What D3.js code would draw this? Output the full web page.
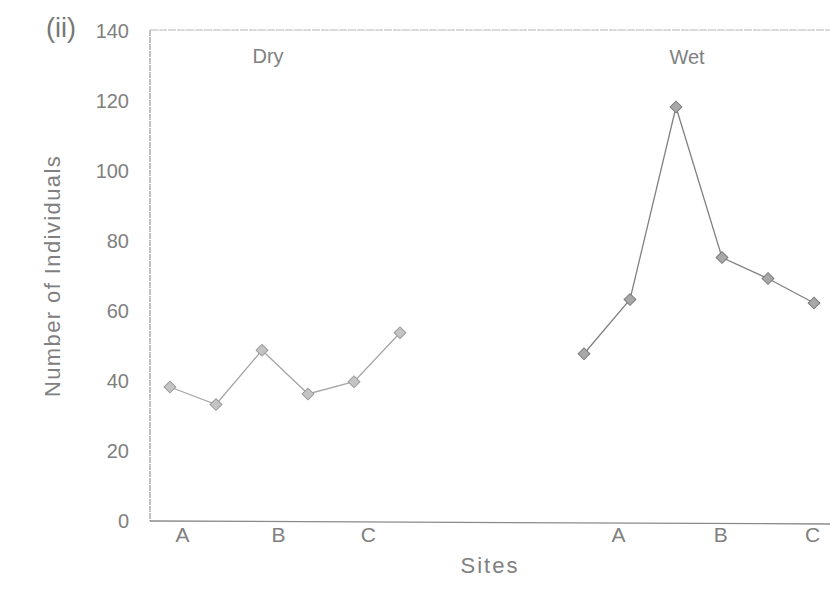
<!DOCTYPE html>
<html>
<head>
<meta charset="utf-8">
<script src="https://cdn.jsdelivr.net/npm/d3@7/dist/d3.min.js"></script>
<style>
  html, body { margin: 0; padding: 0; background: #fff; }
  svg { display: block; }
  text { font-family: "Liberation Sans", Arial, sans-serif; fill: #808080; }
</style>
</head>
<body>
<svg id="chart" width="830" height="605"></svg>
<script>
// Counts of individuals per sample, dry and wet season
const drySeason = [38, 33, 48.5, 36, 39.5, 53.5];
const wetSeason = [47.5, 63, 118, 75, 69, 62];
const dryIndex = [0, 1, 2, 3, 4, 5];
const wetIndex = [9, 10, 11, 12, 13, 14];
const siteNames = ["A", "B", "C"];
const drySiteSlots = [0.26, 2.35, 4.3];
const wetSiteSlots = [9.74, 11.96, 13.96];
const yTickValues = [0, 20, 40, 60, 80, 100, 120, 140];

const svg = d3.select("#chart");
const frameLeft = 150, frameTop = 30, frameBottom = 521, frameRight = 830;

const x = d3.scaleLinear().domain([0, 14]).range([170, 814]);
const y = d3.scaleLinear().domain([0, 140]).range([520, 30]);

// frame: left, top and bottom edges
svg.append("line").attr("x1", frameLeft).attr("x2", frameLeft).attr("y1", frameTop).attr("y2", frameBottom)
  .attr("stroke", "#9a9a9a").attr("stroke-width", 1.2).attr("stroke-dasharray", "6,1");
svg.append("line").attr("x1", frameLeft).attr("x2", frameRight).attr("y1", frameTop).attr("y2", frameTop)
  .attr("stroke", "#b5b5b5").attr("stroke-width", 1.2).attr("stroke-dasharray", "8,1");
svg.append("line").attr("x1", frameLeft).attr("x2", frameRight).attr("y1", frameBottom).attr("y2", frameBottom + 3)
  .attr("stroke", "#8a8a8a").attr("stroke-width", 1.3);

// y axis labels
const yAxis = svg.append("g").attr("transform", `translate(${frameLeft},0)`)
  .call(d3.axisLeft(y).tickValues(yTickValues).tickSize(0).tickPadding(21).tickFormat(d3.format("d")));
yAxis.select(".domain").remove();
yAxis.selectAll("text").style("font-size", "20px").attr("fill", "#808080").attr("dy", "0.36em");

// x axis site labels
function siteAxis(slots) {
  const g = svg.append("g").attr("transform", `translate(0,${frameBottom})`)
    .call(d3.axisBottom(x).tickValues(slots).tickSize(0).tickPadding(6)
      .tickFormat((d, i) => siteNames[i]));
  g.select(".domain").remove();
  g.selectAll("text").style("font-size", "21px").attr("fill", "#808080");
}
siteAxis(drySiteSlots);
siteAxis(wetSiteSlots);

// titles
svg.append("text").attr("x", 61).attr("y", 37).attr("text-anchor", "middle")
  .style("font-size", "27px").style("fill", "#777").text("(ii)");
svg.append("text").attr("x", 268).attr("y", 63).attr("text-anchor", "middle")
  .style("font-size", "20px").text("Dry");
svg.append("text").attr("x", 687).attr("y", 64).attr("text-anchor", "middle")
  .style("font-size", "20px").text("Wet");
svg.append("text").attr("x", 490).attr("y", 573).attr("text-anchor", "middle")
  .style("font-size", "22px").style("letter-spacing", "2px").text("Sites");
svg.append("text").attr("transform", "translate(60,276) rotate(-90)").attr("text-anchor", "middle")
  .style("font-size", "22px").style("letter-spacing", "1.4px").text("Number of Individuals");

// series lines and diamond markers
const line = d3.line().x(d => x(d[0])).y(d => y(d[1]));

function series(idx, vals, lineColor, markFill, markStroke) {
  const pts = idx.map((k, i) => [k, vals[i]]);
  svg.append("path").datum(pts).attr("d", line)
    .attr("fill", "none").attr("stroke", lineColor).attr("stroke-width", 1.3);
  svg.selectAll(null).data(pts).enter().append("path")
    .attr("d", d3.symbol().type(d3.symbolSquare).size(70))
    .attr("transform", d => `translate(${x(d[0])},${y(d[1])}) rotate(45)`)
    .attr("fill", markFill).attr("stroke", markStroke).attr("stroke-width", 1);
}
series(dryIndex, drySeason, "#a5a5a5", "#c4c4c4", "#999");
series(wetIndex, wetSeason, "#808080", "#a8a8a8", "#7a7a7a");
</script>
</body>
</html>
